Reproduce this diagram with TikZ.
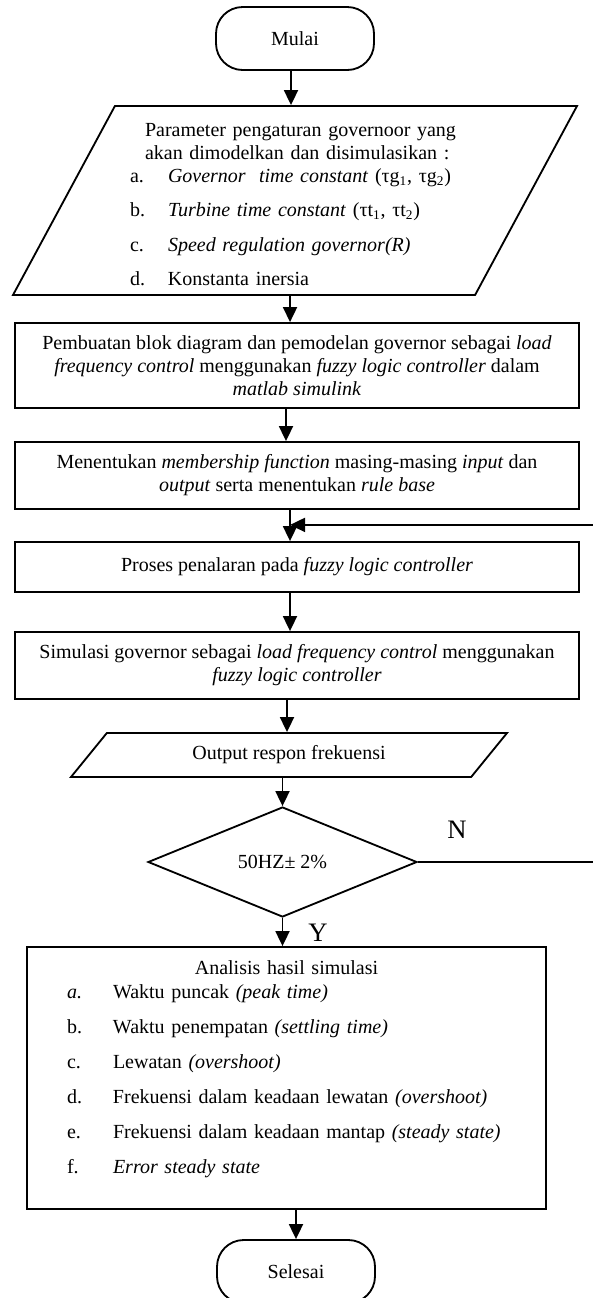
\documentclass[tikz,border=0pt]{standalone}
\usepackage{fontspec}
\setmainfont{Liberation Serif}
\usetikzlibrary{arrows.meta,positioning,shapes.geometric}
\newcommand{\butir}[3][22.8pt]{\makebox[#1][l]{#2}\mbox{#3}}

\begin{document}
\begin{tikzpicture}[
  x=0.6pt,y=-0.6pt,
  every node/.style={font=\fontsize{12}{13.8}\selectfont,align=center},
  ujung/.style={draw,line width=1.1pt,rounded corners=16pt,
    minimum width=94.8pt,minimum height=37.8pt},
  kotak/.style={draw,line width=1.1pt,minimum width=338.4pt,inner sep=0pt},
  io/.style={draw,line width=1.1pt,trapezium,trapezium stretches body,
    inner sep=0pt},
  keputusan/.style={draw,line width=1.1pt,diamond,minimum width=161.4pt,
    minimum height=66pt,inner sep=0pt},
  lbl/.style={font=\fontsize{16}{19}\selectfont,inner sep=0pt},
  arrow/.style={-{Triangle[length=9pt,width=8.4pt]},line width=1.1pt}
]
  \useasboundingbox (0,0) rectangle (592,1298);

  \node[ujung] (mulai) at (295,38.5) {Mulai};
  \node[io,trapezium left angle=59.1,trapezium right angle=120.9,
    minimum width=338.4pt,minimum height=113.4pt,text width=198pt,align=left]
    (param) at (295,200.5) {%
    \hspace*{9pt}\rule{0pt}{12.6pt}\mbox{Parameter pengaturan governoor yang}\\
    \hspace*{9pt}\mbox{akan dimodelkan dan disimulasikan :}\\
    \butir{a.}{\textit{Governor\ \ time constant} (τg\textsubscript{1}, τg\textsubscript{2})}\\[6.8pt]
    \butir{b.}{\textit{Turbine time constant} (τt\textsubscript{1}, τt\textsubscript{2})}\\[6.8pt]
    \butir{c.}{\textit{Speed regulation governor(R)}}\\[6.8pt]
    \butir{d.}{Konstanta inersia}};
  \node[kotak,minimum height=51pt] (blok) at (297,365.5)
    {Pembuatan blok diagram dan pemodelan governor sebagai \textit{load}\\
    \textit{frequency control} menggunakan \textit{fuzzy logic controller} dalam\\
    \textit{matlab simulink}};
  \node[kotak,minimum height=40.2pt] (fungsi) at (297,475.5)
    {Menentukan \textit{membership function} masing-masing \textit{input} dan\\
    \textit{output} serta menentukan \textit{rule base}};
  \node[kotak,minimum height=30pt] (penalaran) at (297,567)
    {Proses penalaran pada \textit{fuzzy logic controller}};
  \node[kotak,minimum height=40.2pt] (simulasi) at (297,665.5)
    {Simulasi governor sebagai \textit{load frequency control} menggunakan\\
    \textit{fuzzy logic controller}};
  \node[io,trapezium left angle=27.1,trapezium right angle=152.9,
    minimum width=261.6pt,minimum height=26.4pt]
    (keluaran) at (289,755) {Output respon frekuensi};
  \node[keputusan] (cek) at (282.5,862) {50HZ± 2\%};
  \node[kotak,minimum width=311.4pt,minimum height=157.2pt,text width=263.4pt,
    align=left] (analisis) at (286.5,1078) {%
    \makebox[263.4pt]{Analisis hasil simulasi}\\[0.6pt]
    \butir[27.6pt]{\textit{a.}}{Waktu puncak \textit{(peak time)}}\\[7.2pt]
    \butir[27.6pt]{b.}{Waktu penempatan \textit{(settling time)}}\\[7.2pt]
    \butir[27.6pt]{c.}{Lewatan \textit{(overshoot)}}\\[7.2pt]
    \butir[27.6pt]{d.}{Frekuensi dalam keadaan lewatan \textit{(overshoot)}}\\[7.2pt]
    \butir[27.6pt]{e.}{Frekuensi dalam keadaan mantap \textit{(steady state)}}\\[7.2pt]
    \butir[27.6pt]{f.}{\textit{Error steady state}}\\[-0.6pt]
    \mbox{}};
  \node[ujung] (selesai) at (296,1271.5) {Selesai};

  \node[lbl] (tidak) at (457,830) {N};
  \node[lbl] (ya) at (318,933) {Y};

  \coordinate (gabung) at ([xshift=-4.2pt,yshift=-9pt]fungsi.south);
  \coordinate (balik) at (gabung -| 594,0);

  \draw[arrow] ([xshift=-2.4pt]mulai.south) -- ([xshift=-2.4pt]mulai.south |- param.north);
  \draw[arrow] ([xshift=-3pt]param.south) -- ([xshift=-3pt]param.south |- blok.north);
  \draw[arrow] ([xshift=-6.6pt]blok.south) -- ([xshift=-6.6pt]blok.south |- fungsi.north);
  \draw[arrow] ([xshift=-4.2pt]fungsi.south) -- ([xshift=-4.2pt]fungsi.south |- penalaran.north);
  \draw[arrow] ([xshift=-4.2pt]penalaran.south) -- ([xshift=-4.2pt]penalaran.south |- simulasi.north);
  \draw[arrow] ([xshift=-6pt]simulasi.south) -- ([xshift=-6pt]simulasi.south |- keluaran.north);
  \draw[arrow] (keluaran.south -| cek.north) -- (cek.north);
  \draw[arrow] (cek.south) -- (cek.south |- analisis.north);
  \draw[arrow] (selesai.north |- analisis.south) -- (selesai.north);
  \draw[arrow] (cek.east) -| (balik) -- (gabung);
\end{tikzpicture}
\end{document}
